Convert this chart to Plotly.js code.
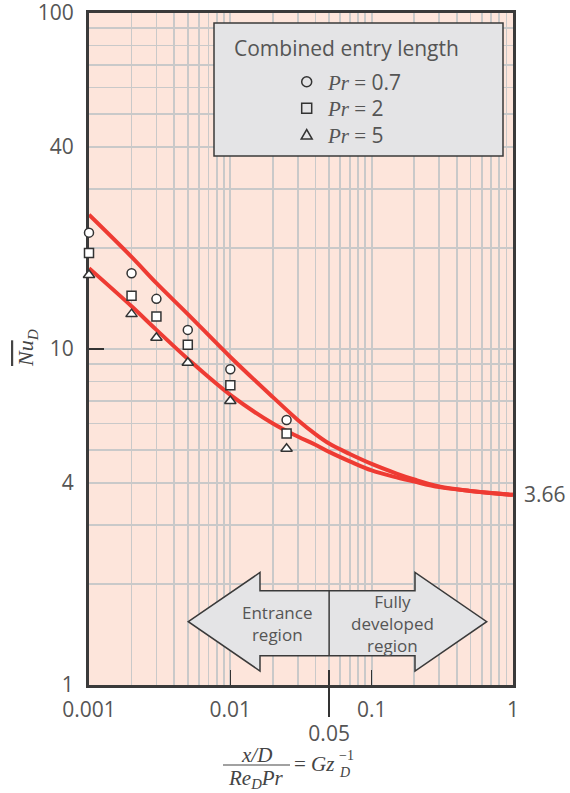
<!DOCTYPE html>
<html><head><meta charset="utf-8">
<script src="https://cdn.plot.ly/plotly-3.0.1.min.js"></script>
<style>html,body{margin:0;padding:0;background:#fff}#chart{width:570px;height:793px}</style>
</head><body><div id="chart"></div><script>
// ---- data ----
const xPoints = [0.001, 0.002, 0.003, 0.005, 0.01, 0.025];
const nuPr07 = [22.2, 16.8, 14.1, 11.4, 8.7, 6.15];
const nuPr2  = [19.3, 14.4, 12.5, 10.3, 7.8, 5.6];
const nuPr5  = [16.6, 12.7, 10.8, 9.1, 7.0, 5.05];

const curveX     = [0.001, 0.002, 0.003, 0.005, 0.01, 0.02, 0.03, 0.04, 0.05, 0.07, 0.1, 0.15, 0.2, 0.3, 0.5, 1];
const nuCombined = [25.1, 18.8, 15.7, 12.7, 9.47, 7.19, 6.15, 5.58, 5.23, 4.87, 4.55, 4.26, 4.09, 3.90, 3.78, 3.68];
const nuThermal  = [17.4, 13.4, 11.4, 9.34, 7.30, 6.00, 5.49, 5.19, 4.94, 4.63, 4.35, 4.15, 4.03, 3.88, 3.78, 3.68];

const xTickVals = [0.001, 0.01, 0.05, 0.1, 1];
const xTickText = ['0.001', '0.01', '', '0.1', '1'];
const yTickVals = [1, 4, 10, 40, 100];
const yTickText = ['1', '4', '10', '40', '100'];
const fullyDevNu = 3.66;
const seriesNames = ['<i>Pr</i> = 0.7', '<i>Pr</i> = 2', '<i>Pr</i> = 5'];

// ---- layout helpers (pixel -> paper) ----
const L = 89, R = 513, T = 13, B = 685;
const px = x => (x - L) / (R - L);
const py = y => (B - y) / (B - T);

const xGrid = [], yGrid = [];
for (let e = -3; e < 0; e++) for (let m = 1; m < 10; m++) xGrid.push(m * Math.pow(10, e));
xGrid.push(1);
for (let e = 0; e < 2; e++) for (let m = 1; m < 10; m++) yGrid.push(m * Math.pow(10, e));
yGrid.push(100);

const RED = '#ee3b33', INK = '#3a3a3a', TXT = '#555555';
const SANS = 'Open Sans, Noto Sans, sans-serif';
const SERIF = 'Liberation Serif, DejaVu Serif, serif';
const GRID = '#c9c9c9';

const markerStyle = sym => ({symbol: sym, size: sym === 'triangle-up' ? 10 : 9, color: '#ffffff',
  line: {color: '#333333', width: 1.5}});

const traces = [
  {x: curveX, y: nuCombined, mode: 'lines', line: {color: RED, width: 4, shape: 'spline', smoothing: 1}, showlegend: false},
  {x: curveX, y: nuThermal, mode: 'lines', line: {color: RED, width: 4, shape: 'spline', smoothing: 1}, showlegend: false},
  {x: xPoints, y: nuPr07, mode: 'markers', marker: markerStyle('circle'), cliponaxis: false, name: seriesNames[0], showlegend: false},
  {x: xPoints, y: nuPr2, mode: 'markers', marker: markerStyle('square'), cliponaxis: false, name: seriesNames[1], showlegend: false},
  {x: xPoints, y: nuPr5, mode: 'markers', marker: markerStyle('triangle-up'), cliponaxis: false, name: seriesNames[2], showlegend: false},
  {x: [], y: [], xaxis: 'x2', yaxis: 'y2', mode: 'markers', showlegend: false}
];

function pathFrom(pts) {
  return 'M' + pts.map(p => px(p[0]).toFixed(5) + ',' + py(p[1]).toFixed(5)).join('L') + 'Z';
}
const arrowPts = [[188.3,621.7],[260,572.5],[260,590.7],[415,590.7],[415,572.5],[486.7,621.7],
                  [415,671],[415,655.7],[260,655.7],[260,671]];
const xDiv = (Math.log10(0.05) + 3) / 3;

const shapes = [
  // legend box
  {type: 'rect', xref: 'paper', yref: 'paper', x0: px(214), x1: px(503), y0: py(156), y1: py(23),
   fillcolor: '#e4e4e6', line: {color: INK, width: 1.5}},
  // double arrow
  {type: 'path', xref: 'paper', yref: 'paper', path: pathFrom(arrowPts), fillcolor: '#e4e4e6', line: {color: INK, width: 1.5}},
  {type: 'line', xref: 'paper', yref: 'paper', x0: xDiv, x1: xDiv, y0: py(655.7), y1: py(590.7), line: {color: INK, width: 1.5}},
  // legend symbols
  {type: 'circle', xref: 'paper', yref: 'paper', xsizemode: 'pixel', ysizemode: 'pixel',
   xanchor: px(306.7), yanchor: py(81.7), x0: -5, x1: 5, y0: -5, y1: 5, fillcolor: 'rgba(0,0,0,0)', line: {color: '#333', width: 1.5}},
  {type: 'rect', xref: 'paper', yref: 'paper', xsizemode: 'pixel', ysizemode: 'pixel',
   xanchor: px(306.7), yanchor: py(108.3), x0: -5, x1: 5, y0: -5, y1: 5, fillcolor: 'rgba(0,0,0,0)', line: {color: '#333', width: 1.5}},
  {type: 'path', xref: 'paper', yref: 'paper', xsizemode: 'pixel', ysizemode: 'pixel',
   xanchor: px(306.7), yanchor: py(135), path: 'M-5.5,-4L5.5,-4L0,5.5Z', fillcolor: 'rgba(0,0,0,0)', line: {color: '#333', width: 1.5}},
  // fraction bar of x title
  {type: 'line', xref: 'paper', yref: 'paper', x0: px(223), x1: px(290), y0: py(765), y1: py(765), line: {color: '#444', width: 1.2}}
];

const ann = (text, x, y, opts) => Object.assign({text, xref: 'paper', yref: 'paper', x: px(x), y: py(y),
  showarrow: false, xanchor: 'center', yanchor: 'middle', font: {family: SANS, size: 21, color: TXT}}, opts || {});

const prLabel = v => '<span style="font-family:Liberation Serif"><i>Pr</i> =</span> ' + v;

const annotations = [
  ann('Combined entry length', 232, 48, {xanchor: 'left'}),
  ann(prLabel('0.7'), 325, 81.7, {xanchor: 'left'}),
  ann(prLabel('2'), 325, 108.3, {xanchor: 'left'}),
  ann(prLabel('5'), 325, 135, {xanchor: 'left'}),
  ann('Entrance<br>region', 276.7, 623, {font: {family: SANS, size: 17, color: TXT}}),
  ann('Fully<br>developed<br>region', 392.7, 623, {font: {family: SANS, size: 17, color: TXT}}),
  {text: String(fullyDevNu), xref: 'paper', yref: 'y', x: px(522), y: Math.log10(fullyDevNu), yshift: 2,
   showarrow: false, xanchor: 'left', yanchor: 'middle', font: {family: SANS, size: 21, color: TXT}},
  // y title
  ann('<span style="text-decoration:overline"><i>Nu</i></span><sub><i>D</i></sub>', 27, 348,
      {textangle: -90, font: {family: SERIF, size: 22, color: '#444'}}),
  // x title
  ann('<i>x/D</i>', 256, 755, {font: {family: SERIF, size: 21, color: '#444'}}),
  ann('<i>Re</i><sub><i>D</i></sub><i>Pr</i>', 256, 779, {font: {family: SERIF, size: 21, color: '#444'}}),
  ann('= <i>Gz</i>', 292, 764, {xanchor: 'left', font: {family: SERIF, size: 21, color: '#444'}}),
  ann('<i>D</i>', 337, 772, {xanchor: 'left', font: {family: SERIF, size: 14, color: '#444'}}),
  ann('−1', 337, 755, {xanchor: 'left', font: {family: SERIF, size: 14, color: '#444'}})
];

const layout = {
  width: 570, height: 793,
  margin: {l: L, r: 570 - R, t: T, b: 793 - B, pad: 0},
  paper_bgcolor: '#ffffff', plot_bgcolor: '#fde5db',
  showlegend: false, hovermode: false,
  xaxis: {type: 'log', range: [-3, 0], tickvals: xTickVals, ticktext: xTickText,
    ticks: 'inside', ticklen: 15, tickwidth: 1.5, tickcolor: '#333',
    showgrid: true, gridcolor: GRID, gridwidth: 1.8, zeroline: false,
    showline: true, mirror: true, linecolor: INK, linewidth: 3, layer: 'below traces',
    tickfont: {family: SANS, size: 21, color: TXT}, ticklabelstandoff: 4, ticklabeloverflow: 'allow',
    minor: {tickvals: xGrid, showgrid: true, gridcolor: GRID, gridwidth: 1.8, ticks: ''}},
  yaxis: {type: 'log', range: [0, 2], tickvals: yTickVals, ticktext: yTickText,
    ticks: '', showgrid: true, gridcolor: GRID, gridwidth: 1.8, zeroline: false,
    showline: true, mirror: true, linecolor: INK, linewidth: 3, layer: 'below traces',
    tickfont: {family: SANS, size: 21, color: TXT}, ticklabelstandoff: 8, ticklabeloverflow: 'allow',
    minor: {tickvals: yGrid, showgrid: true, gridcolor: GRID, gridwidth: 1.8, ticks: ''}},
  xaxis2: {type: 'log', range: [-3, 0], overlaying: 'x', anchor: 'y2', side: 'bottom',
    tickvals: [0.05], ticktext: ['0.05'], ticks: 'outside', ticklen: 31, tickwidth: 1.5, tickcolor: '#333',
    showgrid: false, zeroline: false, showline: false, ticklabeloverflow: 'allow',
    tickfont: {family: SANS, size: 21, color: TXT}, ticklabelstandoff: -1},
  yaxis2: {type: 'log', range: [0, 2], overlaying: 'y', anchor: 'x2', side: 'left',
    tickvals: [10], ticks: 'inside', ticklen: 15, tickwidth: 1.5, tickcolor: '#333',
    showticklabels: false, showgrid: false, zeroline: false, showline: false},
  shapes, annotations
};

Plotly.newPlot('chart', traces, layout, {staticPlot: true, displayModeBar: false});
</script></body></html>
